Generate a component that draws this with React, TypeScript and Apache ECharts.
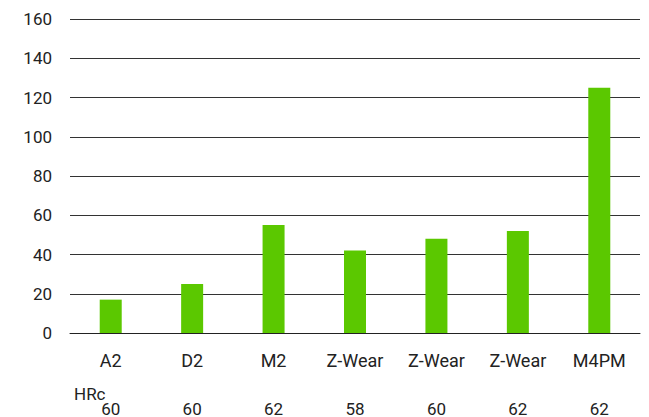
import React, { useEffect, useRef } from "react";
import * as echarts from "echarts";

const categories = ["A2", "D2", "M2", "Z-Wear", "Z-Wear", "Z-Wear", "M4PM"];
const values = [17, 25, 55, 42, 48, 52, 125];
const hrc = ["60", "60", "62", "58", "60", "62", "62"];
const hrcTitle = "HRc";

export default function App() {
  const ref = useRef<HTMLDivElement>(null);
  useEffect(() => {
    document.body.style.margin = "0";
    const chart = echarts.init(ref.current!, null, { renderer: "svg" });
    const font = "Roboto";
    chart.setOption({
      animation: false,
      grid: { left: 70, right: 9, top: 19, bottom: 84 },
      xAxis: [
        {
          type: "category",
          data: categories,
          axisLine: { lineStyle: { color: "#222", width: 1 } },
          axisTick: { show: false },
          axisLabel: { color: "#222", fontFamily: font, fontSize: 18, margin: 18, interval: 0 },
        },
        {
          type: "category",
          position: "bottom",
          offset: 51,
          data: hrc,
          axisLine: { show: false },
          axisTick: { show: false },
          axisLabel: { color: "#222", fontFamily: font, fontSize: 17, margin: 16, interval: 0 },
        },
      ],
      yAxis: {
        type: "value",
        min: 0,
        max: 160,
        interval: 20,
        axisLine: { show: false },
        axisTick: { show: false },
        axisLabel: { color: "#222", fontFamily: font, fontSize: 17, margin: 18 },
        splitLine: { lineStyle: { color: "#333", width: 1 } },
      },
      graphic: [
        {
          type: "text",
          left: 74,
          top: 385,
          style: { text: hrcTitle, fill: "#222", font: `17px ${font}` },
        },
      ],
      series: [
        {
          type: "bar",
          data: values,
          barWidth: 22,
          itemStyle: { color: "#5bc800" },
        },
      ],
    });
    return () => chart.dispose();
  }, []);
  return <div ref={ref} style={{ width: 649, height: 417 }} />;
}
